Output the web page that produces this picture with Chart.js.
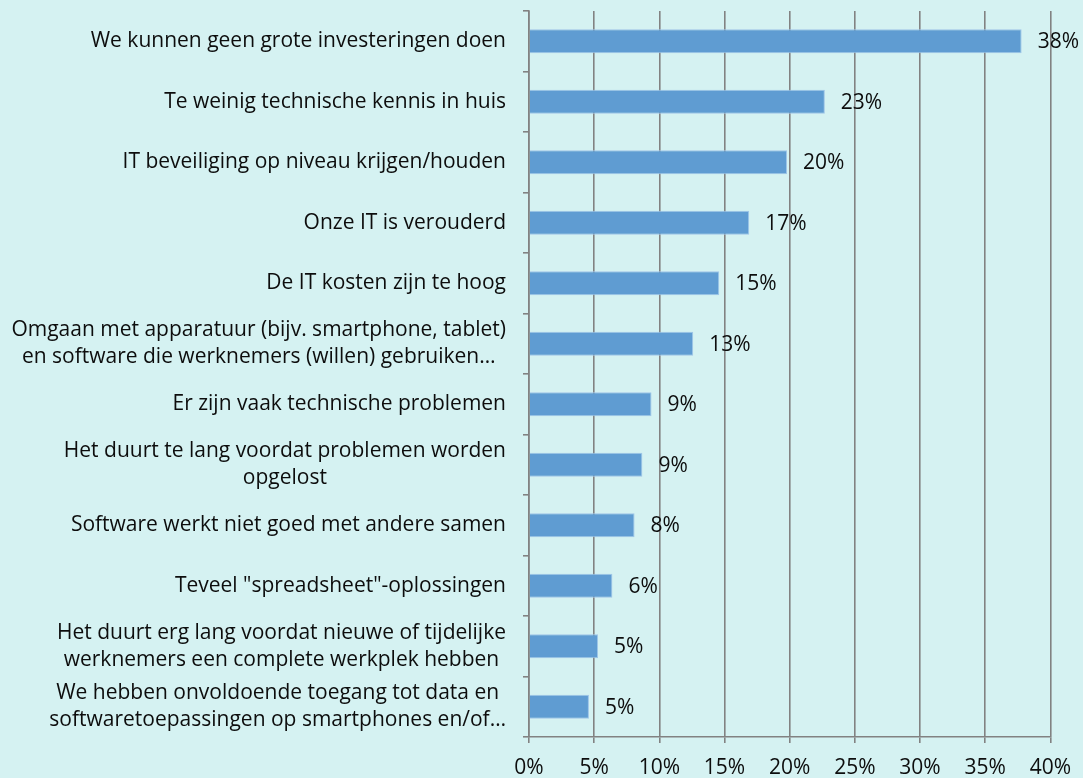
<!DOCTYPE html>
<html>
<head>
<meta charset="utf-8">
<script src="https://cdn.jsdelivr.net/npm/chart.js@4/dist/chart.umd.min.js"></script>
<style>
  html, body { margin: 0; padding: 0; background: #d5f2f2; overflow: hidden; }
  #wrap { width: 1083px; height: 778px; position: relative; }
</style>
</head>
<body>
<div id="wrap"><canvas id="barChart"></canvas></div>
<script>
// categorieen (meerregelige labels als array)
const categorieen = [
  'We kunnen geen grote investeringen doen',
  'Te weinig technische kennis in huis',
  'IT beveiliging op niveau krijgen/houden',
  'Onze IT is verouderd',
  'De IT kosten zijn te hoog',
  ['Omgaan met apparatuur (bijv. smartphone, tablet)', 'en software die werknemers (willen) gebruiken…'],
  'Er zijn vaak technische problemen',
  ['Het duurt te lang voordat problemen worden', 'opgelost'],
  'Software werkt niet goed met andere samen',
  'Teveel "spreadsheet"-oplossingen',
  ['Het duurt erg lang voordat nieuwe of tijdelijke', 'werknemers een complete werkplek hebben'],
  ['We hebben onvoldoende toegang tot data en', 'softwaretoepassingen op smartphones en/of…']
];

const percentages = [37.8, 22.7, 19.8, 16.9, 14.6, 12.6, 9.4, 8.7, 8.1, 6.4, 5.3, 4.6];

// x-as
const xMin = 0;
const xMax = 40;
const xStap = 5;

const FONT = '"Open Sans", Lato, sans-serif';
const FONT_SIZE = 21;
const TEKST = '#0d0d0d';
const LIJN = '#828282';

// labels links van de as: blok rechts uitgelijnd, regels gecentreerd
const categorieLabels = {
  id: 'categorieLabels',
  afterDraw(chart) {
    const ctx = chart.ctx;
    const y = chart.scales.y;
    const rechts = y.right - 23;
    const regelHoogte = 27;
    ctx.save();
    ctx.font = `${FONT_SIZE}px ${FONT}`;
    ctx.fillStyle = TEKST;
    ctx.textAlign = 'center';
    ctx.textBaseline = 'middle';
    categorieen.forEach((lab, i) => {
      const regels = Array.isArray(lab) ? lab : [lab];
      const breed = Math.max(...regels.map(r => ctx.measureText(r).width));
      const midden = y.getPixelForValue(i);
      const start = midden - (regels.length - 1) * regelHoogte / 2;
      regels.forEach((r, k) => {
        ctx.fillText(r, rechts - breed / 2, start + k * regelHoogte);
      });
    });
    ctx.restore();
  }
};

// waardelabels naast de balken
const waardeLabels = {
  id: 'waardeLabels',
  afterDatasetsDraw(chart) {
    const ctx = chart.ctx;
    const meta = chart.getDatasetMeta(0);
    ctx.save();
    ctx.font = `${FONT_SIZE}px ${FONT}`;
    ctx.fillStyle = TEKST;
    ctx.textAlign = 'left';
    ctx.textBaseline = 'middle';
    meta.data.forEach((bar, i) => {
      ctx.fillText(Math.round(percentages[i]) + '%', bar.x + 16, bar.y + 1);
    });
    ctx.restore();
  }
};

window.addEventListener('DOMContentLoaded', () => {
  const ctxBar = document.getElementById('barChart').getContext('2d');
  window.barChart = new Chart(ctxBar, {
    type: 'bar',
    data: {
      labels: categorieen.map((c, i) => i),
      datasets: [{
        data: percentages,
        backgroundColor: '#5f9cd2',
        borderColor: '#9fc5e8',
        borderWidth: 1,
        barPercentage: 0.4,
        categoryPercentage: 1
      }]
    },
    options: {
      indexAxis: 'y',
      responsive: true,
      maintainAspectRatio: false,
      animation: false,
      layout: { padding: { top: 11, right: 31, left: 0, bottom: 0 } },
      plugins: {
        legend: { display: false },
        tooltip: { enabled: false }
      },
      scales: {
        x: {
          min: xMin,
          max: xMax,
          ticks: {
            stepSize: xStap,
            callback: v => v + '%',
            color: TEKST,
            font: { family: FONT, size: FONT_SIZE },
            padding: 12
          },
          grid: { color: LIJN, lineWidth: 1.6, tickLength: 6, drawTicks: true },
          border: { color: LIJN, width: 1.6 },
          afterFit(scale) { scale.height = 41; }
        },
        y: {
          offset: true,
          ticks: { display: false },
          grid: { offset: true, drawOnChartArea: false, drawTicks: true, tickLength: 6, color: LIJN, lineWidth: 1.6 },
          border: { color: LIJN, width: 1.6 },
          afterFit(scale) { scale.width = 529; }
        }
      }
    },
    plugins: [categorieLabels, waardeLabels]
  });
});
</script>
</body>
</html>
